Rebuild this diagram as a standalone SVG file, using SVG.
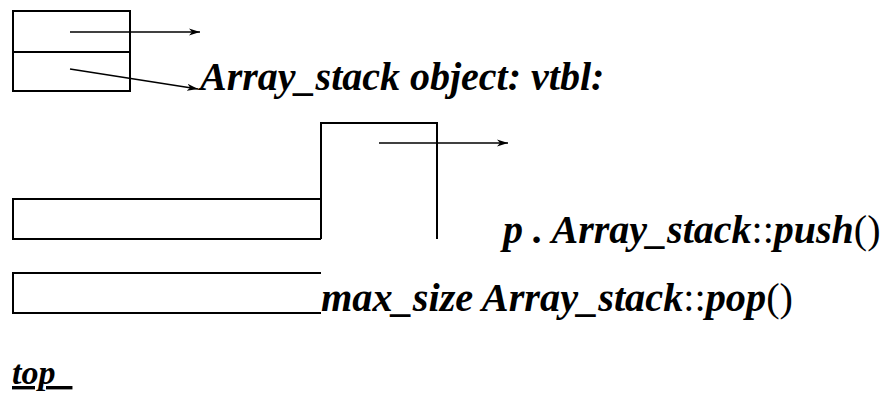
<svg xmlns="http://www.w3.org/2000/svg" width="890" height="396" viewBox="0 0 890 396">
<defs>
<marker id="ah" markerWidth="12" markerHeight="8" refX="11" refY="4" orient="auto" markerUnits="userSpaceOnUse">
<path d="M0,0.5 L11,4 L0,7.5 L3,4 Z" fill="#000"/>
</marker>
</defs>
<rect width="890" height="396" fill="#fff"/>
<g id="pointer-cells" fill="none" stroke="#000" stroke-width="2">
<rect x="13" y="11" width="117" height="80"/>
<line x1="13" y1="52" x2="130" y2="52"/>
</g>
<g id="array-stack-object" fill="none" stroke="#000" stroke-width="2">
<path d="M321,239 L13,239 L13,199 L321,199"/>
<path d="M321,239 L321,123 L437,123 L437,239"/>
</g>
<g id="max-size-cell" fill="none" stroke="#000" stroke-width="2">
<path d="M321,273 L13,273 L13,313 L321,313"/>
</g>
<g id="connectors" fill="none" stroke="#000" stroke-width="1.6">
<line x1="70" y1="32" x2="200" y2="32" marker-end="url(#ah)"/>
<line x1="70" y1="69" x2="198" y2="89" marker-end="url(#ah)"/>
<line x1="379" y1="143" x2="508" y2="143" marker-end="url(#ah)"/>
</g>
<g id="labels">
<text x="200" y="90" font-family="Liberation Serif" font-size="40" font-weight="bold" font-style="oblique">Array_stack object: vtbl:</text>
<text x="503" y="243" font-family="Liberation Serif" font-size="40" font-weight="bold" font-style="oblique">p . Array_stack<tspan font-weight="normal" font-style="normal">::</tspan>push<tspan font-weight="normal" font-style="normal">()</tspan></text>
<text x="321" y="311" font-family="Liberation Serif" font-size="40.3" font-weight="bold" font-style="oblique">max_size Array_stack<tspan font-weight="normal" font-style="normal">::</tspan>pop<tspan font-weight="normal" font-style="normal">()</tspan></text>
<text x="12" y="384" font-family="Liberation Serif" font-size="34" font-weight="bold" font-style="oblique" text-decoration="underline">top_</text>
</g>
</svg>
